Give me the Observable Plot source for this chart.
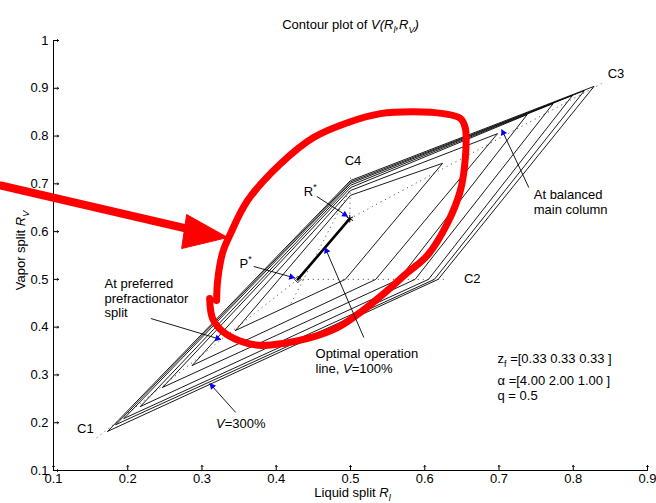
<!DOCTYPE html>
<html>
<head>
<meta charset="utf-8">
<script src="https://cdn.jsdelivr.net/npm/d3@7"></script>
<script src="https://cdn.jsdelivr.net/npm/@observablehq/plot@0.6"></script>
<style>
  html, body { margin: 0; padding: 0; background: #fff; }
  #chart { width: 656px; height: 503px; }
</style>
</head>
<body>
<div id="chart"></div>
<script>
// ---------- data ----------
const xTicks = [0.1, 0.2, 0.3, 0.4, 0.5, 0.6, 0.7, 0.8, 0.9];
const yTicks = [0.1, 0.2, 0.3, 0.4, 0.5, 0.6, 0.7, 0.8, 0.9, 1];

// contour polygons (innermost -> outermost, outermost is V = 300%)
const contourIds = ["k1", "k2", "k3", "k4", "k5", "k6", "k7"];
const vertexA = [[0.345, 0.393], [0.287, 0.320], [0.247, 0.274], [0.217, 0.234], [0.195, 0.209], [0.184, 0.196], [0.173, 0.182]];
const vertexB = [[0.493, 0.500], [0.534, 0.500], [0.565, 0.500], [0.587, 0.500], [0.605, 0.500], [0.613, 0.500], [0.618, 0.500]];
const vertexC = [[0.624, 0.743], [0.698, 0.805], [0.738, 0.845], [0.773, 0.868], [0.799, 0.885], [0.815, 0.895], [0.828, 0.904]];
const vertexD = [[0.500, 0.676], [0.500, 0.686], [0.500, 0.692], [0.500, 0.697], [0.500, 0.701], [0.500, 0.704], [0.500, 0.707]];

const pStar = [0.429, 0.500];
const rStar = [0.499, 0.627];

// dotted region boundaries
const dottedFrom = [pStar, pStar, rStar, rStar, [0.420, 0.450]];
const dottedTo   = [[0.157, 0.167], [0.631, 0.500], [0.838, 0.910], [0.500, 0.713], [0.500, 0.690]];

// corner labels
const cornerLabels = ["C1", "C2", "C3", "C4"];
const cornerPos = [[0.143, 0.188], [0.664, 0.502], [0.8575, 0.930], [0.5034, 0.749]];

// annotation pointers (tail -> head)
const pointerTail = [[0.3697, 0.527], [0.4546, 0.6735], [0.5179, 0.3784], [0.7401, 0.6923], [0.2311, 0.4181], [0.3454, 0.2214]];
const pointerHead = [[0.4250, 0.503], [0.4963, 0.6316], [0.4657, 0.5667], [0.7036, 0.8137], [0.3254, 0.3742], [0.3105, 0.2821]];

// annotation texts (left aligned)
const noteTexts = [
  "P<sup>*</sup>", "R<sup>*</sup>",
  "Optimal operation", "line, <i>V</i>=100%",
  "At balanced", "main column",
  "At preferred", "prefractionator", "split",
  "<i>V</i>=300%",
  "z<sub>f</sub> =[0.33 0.33 0.33 ]", "α =[4.00 2.00 1.00 ]", "q = 0.5"
];
const notePos = [
  [0.3505, 0.5332], [0.4372, 0.6839],
  [0.4529, 0.3449], [0.4529, 0.3124],
  [0.7468, 0.6777], [0.7468, 0.6463],
  [0.1687, 0.4907], [0.1687, 0.4594], [0.1687, 0.4292],
  [0.3189, 0.1984],
  [0.6980, 0.3344], [0.6980, 0.2884], [0.6980, 0.2560]
];

// red hand-drawn overlay
const redLoop = [
  [0.3103, 0.460], [0.3143, 0.418], [0.3278, 0.391], [0.3493, 0.372], [0.3762, 0.362],
  [0.4098, 0.366], [0.4462, 0.378], [0.4825, 0.399], [0.5134, 0.431], [0.5470, 0.473],
  [0.5766, 0.514], [0.6035, 0.550], [0.6304, 0.617], [0.6480, 0.686], [0.6547, 0.755],
  [0.6547, 0.816], [0.6480, 0.837], [0.6251, 0.847], [0.5848, 0.851], [0.5403, 0.847],
  [0.4959, 0.828], [0.4502, 0.797], [0.4058, 0.742], [0.3614, 0.665], [0.3385, 0.596],
  [0.3278, 0.556], [0.3211, 0.498], [0.3197, 0.456]
];
const redShaft = [[0.0291, 0.6965], [0.2847, 0.6044]];
const redHead = [[0.3345, 0.5877], [0.2793, 0.6358], [0.2726, 0.5646], [0.3345, 0.5877]];

// ---------- layout ----------
const W = 656, H = 503, ML = 53, MR = 9, MT = 40, MB = 33;
const kx = (W - ML - MR) / (0.9 - 0.1);
const ky = (H - MT - MB) / (1 - 0.1);

const contourRows = [];
contourIds.forEach((id, k) => {
  [vertexA[k], vertexB[k], vertexC[k], vertexD[k], vertexA[k]].forEach(p =>
    contourRows.push({k: id, x: p[0], y: p[1]}));
});
const dottedRows = dottedFrom.map((a, i) => ({x1: a[0], y1: a[1], x2: dottedTo[i][0], y2: dottedTo[i][1]}));
const pointerRows = pointerTail.map((t, i) => {
  const h = pointerHead[i];
  const dxp = (h[0] - t[0]) * kx, dyp = -(h[1] - t[1]) * ky;
  const len = Math.hypot(dxp, dyp);
  return {
    x1: t[0], y1: t[1], x2: h[0], y2: h[1],
    cx: h[0] - (dxp / len) * 3.6 / kx,
    cy: h[1] + (dyp / len) * 3.6 / ky,
    angle: Math.atan2(dxp, -dyp) * 180 / Math.PI
  };
});
const noteRows = noteTexts.map((t, i) => ({t, x: notePos[i][0], y: notePos[i][1]}));
const cornerRows = cornerLabels.map((t, i) => ({t, x: cornerPos[i][0], y: cornerPos[i][1]}));

const fmt = d => d === 1 ? "1" : d.toFixed(1);

const chart = Plot.plot({
  width: W, height: H,
  marginLeft: ML, marginRight: MR, marginTop: MT, marginBottom: MB,
  x: {domain: [0.1, 0.9]},
  y: {domain: [0.1, 1]},
  style: {fontFamily: "'Liberation Sans', Arial, sans-serif", fontSize: "13px", background: "#fff", color: "#000", overflow: "visible"},
  marks: [
    Plot.axisX(xTicks, {tickSize: 0, tickPadding: 3, tickFormat: fmt, label: null}),
    Plot.axisY(yTicks, {tickSize: 0, tickPadding: 5, tickFormat: fmt, label: null}),
    Plot.ruleX([0.1], {stroke: "#000", strokeWidth: 1}),
    Plot.ruleY([0.1], {stroke: "#000", strokeWidth: 1}),
    Plot.vector(xTicks, {x: d => d, y: 0.1, length: 5, rotate: 0, anchor: "start", stroke: "#000", strokeWidth: 1}),
    Plot.vector(yTicks, {x: 0.1, y: d => d, length: 5, rotate: 90, anchor: "start", stroke: "#000", strokeWidth: 1}),
    // dotted boundaries
    Plot.link(dottedRows, {x1: "x1", y1: "y1", x2: "x2", y2: "y2", stroke: "#444", strokeWidth: 1, strokeDasharray: "1,4"}),
    // contours
    Plot.line(contourRows, {x: "x", y: "y", z: "k", stroke: "#000", strokeWidth: 0.9, strokeLinejoin: "miter"}),
    // optimal operation line
    Plot.line([pStar, rStar], {x: d => d[0], y: d => d[1], stroke: "#000", strokeWidth: 2.6}),
    Plot.dot([pStar], {x: d => d[0], y: d => d[1], symbol: "diamond2", r: 3, stroke: "#000", fill: "none", strokeWidth: 0.8}),
    Plot.dot([rStar], {x: d => d[0], y: d => d[1], symbol: "asterisk", r: 3.6, stroke: "#000", strokeWidth: 1}),
    // red overlay
    Plot.line(redLoop, {x: d => d[0], y: d => d[1], curve: "catmull-rom", stroke: "#f00", strokeWidth: 7}),
    Plot.line(redShaft, {x: d => d[0], y: d => d[1], stroke: "#f00", strokeWidth: 8}),
    Plot.line(redHead, {x: d => d[0], y: d => d[1], stroke: "#f00", fill: "#f00", strokeWidth: 1}),
    // pointers
    Plot.link(pointerRows, {x1: "x1", y1: "y1", x2: "x2", y2: "y2", stroke: "#000", strokeWidth: 0.9}),
    Plot.dot(pointerRows, {x: "cx", y: "cy", symbol: "triangle", r: 2.5, fill: "#00f", stroke: "none", rotate: "angle"}),
    // texts
    Plot.text(cornerRows, {x: "x", y: "y", text: "t", textAnchor: "middle"}),
    Plot.text(noteRows, {x: "x", y: "y", text: "t", textAnchor: "start"}),
    Plot.text(["Contour plot of <i>V(R<sub>l</sub>,R<sub>V</sub>)</i>"], {frameAnchor: "top", text: d => d, dy: -21, textAnchor: "middle"}),
    Plot.text(["Liquid split <i>R<sub>l</sub></i>"], {frameAnchor: "bottom", text: d => d, dy: 26, dx: 2, textAnchor: "middle"}),
    Plot.text(["Vapor split <i>R<sub>V</sub></i>"], {frameAnchor: "left", text: d => d, dx: -33, dy: -5, rotate: -90, textAnchor: "middle"})
  ]
});

// rich text: italic / sub / superscript tspans
const NS = "http://www.w3.org/2000/svg";
chart.querySelectorAll("text").forEach(t => {
  const s = t.textContent;
  if (!/<\/?(i|sub|sup)>/.test(s)) return;
  while (t.firstChild) t.removeChild(t.firstChild);
  const parts = s.split(/(<\/?(?:i|sub|sup)>)/);
  let italic = false, shift = 0, cur = 0;
  for (const p of parts) {
    if (p === "<i>") { italic = true; continue; }
    if (p === "</i>") { italic = false; continue; }
    if (p === "<sub>") { shift = 4; continue; }
    if (p === "<sup>") { shift = -6; continue; }
    if (p === "</sub>" || p === "</sup>") { shift = 0; continue; }
    if (!p) continue;
    const ts = document.createElementNS(NS, "tspan");
    if (italic) ts.setAttribute("font-style", "italic");
    if (shift !== cur) { ts.setAttribute("dy", shift - cur); cur = shift; }
    if (shift !== 0) ts.setAttribute("font-size", "9");
    ts.textContent = p;
    t.appendChild(ts);
  }
});

document.getElementById("chart").appendChild(chart);
</script>
</body>
</html>
